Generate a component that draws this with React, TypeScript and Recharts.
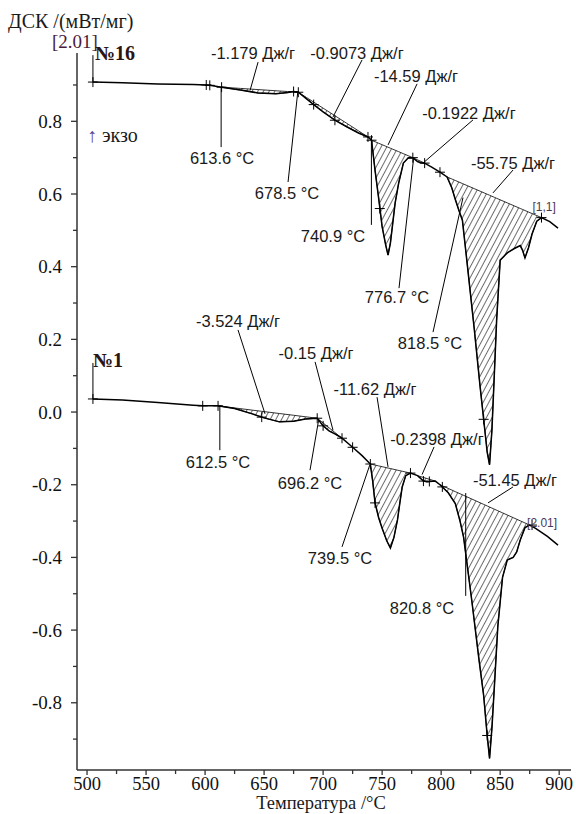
import React from 'react';
import {
  ComposedChart,
  Line,
  Area,
  Scatter,
  XAxis,
  YAxis,
  ReferenceLine,
  ReferenceDot,
} from 'recharts';

const serif = '"Liberation Serif", "Times New Roman", serif';
const sans = '"Liberation Sans", Arial, sans-serif';

// sample №16: temperature (°C) and DSC signal (mW/mg)
const tempA = [
  505, 530, 560, 590, 601, 604, 614, 630, 645, 660, 670, 675, 679, 686, 692, 700, 710, 720,
  730, 738, 741, 744, 747, 750, 753, 755, 757, 759, 761, 764, 768, 772, 776, 780, 783, 786,
  792, 799, 805, 809, 812, 815, 818, 822, 828, 833, 837, 839, 841, 843, 845, 847, 850, 856,
  862, 867, 869, 871, 874, 877, 881, 885, 892, 899,
];
const dscA = [
  0.908, 0.906, 0.903, 0.901, 0.9, 0.899, 0.894, 0.886, 0.878, 0.876, 0.879, 0.882, 0.88,
  0.862, 0.846, 0.826, 0.803, 0.785, 0.768, 0.757, 0.748, 0.665, 0.59, 0.51, 0.46, 0.432,
  0.465, 0.52, 0.575, 0.63, 0.685, 0.699, 0.7, 0.689, 0.686, 0.685, 0.674, 0.66, 0.647,
  0.617, 0.585, 0.555, 0.528, 0.41, 0.23, 0.07, -0.05, -0.11, -0.145, -0.05, 0.1, 0.253,
  0.418, 0.438, 0.45, 0.458, 0.445, 0.424, 0.452, 0.49, 0.525, 0.535, 0.524, 0.506,
];

// sample №1
const tempB = [
  505, 530, 560, 590, 598, 611, 625, 640, 650, 663, 675, 685, 695, 700, 705, 710, 716, 725,
  733, 740, 742, 744, 747, 750, 754, 757, 760, 763, 765, 767, 770, 774, 780, 785, 788, 795,
  799, 806, 812, 816, 819, 826, 832, 836, 839, 841, 843, 845, 848, 852, 856, 861, 864, 867,
  871, 875, 880, 890, 899,
];
const dscB = [
  0.036, 0.033, 0.026, 0.019, 0.017, 0.017, 0.01, -0.005, -0.016, -0.027, -0.025, -0.019,
  -0.017, -0.038, -0.052, -0.06, -0.072, -0.097, -0.12, -0.143, -0.19, -0.25, -0.29, -0.32,
  -0.355, -0.374, -0.345, -0.297, -0.25, -0.206, -0.175, -0.168, -0.175, -0.19, -0.192,
  -0.19, -0.2, -0.222, -0.252, -0.3, -0.344, -0.52, -0.68, -0.78, -0.89, -0.953, -0.87,
  -0.76, -0.59, -0.455, -0.407, -0.4, -0.385, -0.352, -0.318, -0.311, -0.32, -0.342, -0.366,
];

// integration limits (°C) of the hatched peaks
const limitsA = [[614, 679], [679, 738], [741, 776], [776, 786], [805, 885]];
const limitsB = [[611, 695], [695, 716], [740, 774], [780, 795], [799, 875]];

// evaluation points drawn as small crosses
const marksA = [
  [505, 0.908], [601, 0.9], [604, 0.899], [614, 0.894], [675, 0.882], [679, 0.88],
  [692, 0.846], [710, 0.803], [738, 0.757], [741, 0.748], [748, 0.56], [776, 0.7],
  [786, 0.685], [799, 0.66], [836, -0.02], [885, 0.535],
];
const marksB = [
  [505, 0.036], [598, 0.017], [611, 0.017], [648, -0.014], [695, -0.017], [700, -0.038],
  [716, -0.072], [725, -0.097], [740, -0.143], [744, -0.25], [774, -0.168], [785, -0.19],
  [790, -0.191], [801, -0.206], [839, -0.89], [877, -0.311],
];

// peak areas: label centre and leader line, in axis units
const areaLabels = [
  { text: '-1.179 Дж/г', x: 640.6, y: 0.988, from: [644.9, 0.963], to: [638.1, 0.885] },
  { text: '-0.9073 Дж/г', x: 728.7, y: 0.988, from: [733.0, 0.969], to: [708.4, 0.812] },
  { text: '-14.59 Дж/г', x: 778.7, y: 0.925, from: [779.6, 0.903], to: [755.0, 0.735] },
  { text: '-0.1922 Дж/г', x: 823.6, y: 0.823, from: [827.0, 0.804], to: [784.6, 0.685] },
  { text: '-55.75 Дж/г', x: 860.9, y: 0.685, from: [860.9, 0.666], to: [843.9, 0.603] },
  { text: '-3.524 Дж/г', x: 627.9, y: 0.25, from: [627.9, 0.226], to: [650.8, -0.005] },
  { text: '-0.15 Дж/г', x: 694.0, y: 0.162, from: [693.2, 0.138], to: [708.4, -0.05] },
  { text: '-11.62 Дж/г', x: 744.0, y: 0.063, from: [745.7, 0.041], to: [755.0, -0.151] },
  { text: '-0.2398 Дж/г', x: 796.5, y: -0.074, from: [794.0, -0.096], to: [783.8, -0.172] },
  { text: '-51.45 Дж/г', x: 862.6, y: -0.187, from: [860.9, -0.206], to: [839.7, -0.25] },
];

// onset temperatures with their marker lines
const onsets = [
  { t: 613.6, x: 614.4, y: 0.699, from: [613.6, 0.894], to: [613.6, 0.729] },
  { t: 678.5, x: 669.4, y: 0.603, from: [678.5, 0.88], to: [670.3, 0.633] },
  { t: 740.9, x: 708.4, y: 0.484, from: [740.9, 0.746], to: [740.9, 0.515] },
  { t: 776.7, x: 762.6, y: 0.316, from: [776.7, 0.699], to: [764.3, 0.341] },
  { t: 818.5, x: 790.6, y: 0.19, from: [818.5, 0.59], to: [793.1, 0.22] },
  { t: 612.5, x: 611.0, y: -0.138, from: [612.5, 0.017], to: [612.5, -0.105] },
  { t: 696.2, x: 688.9, y: -0.195, from: [696.2, -0.022], to: [688.9, -0.16] },
  { t: 739.5, x: 714.3, y: -0.402, from: [739.5, -0.146], to: [716.0, -0.371] },
  { t: 820.8, x: 783.8, y: -0.539, from: [820.8, -0.223], to: [820.8, -0.506] },
];

const xTicks = [500, 525, 550, 575, 600, 625, 650, 675, 700, 725, 750, 775, 800, 825, 850, 875, 900];
const yTicks = [-0.9, -0.8, -0.7, -0.6, -0.5, -0.4, -0.3, -0.2, -0.1, 0, 0.1, 0.2, 0.3, 0.4, 0.5, 0.6, 0.7, 0.8, 0.9];

const toPoints = (t: number[], v: number[]) => t.map((x, i) => ({ t: x, v: v[i] }));

// range between the straight baseline and the curve for one peak
const peakRange = (t: number[], v: number[], from: number, to: number) => {
  const i0 = t.indexOf(from);
  const i1 = t.indexOf(to);
  const b0 = v[i0];
  const b1 = v[i1];
  return t.slice(i0, i1 + 1).map((x, k) => ({
    t: x,
    range: [b0 + ((b1 - b0) * (x - from)) / (to - from), v[i0 + k]],
  }));
};

const curveA = toPoints(tempA, dscA);
const curveB = toPoints(tempB, dscB);
const peaks = [
  ...limitsA.map(([a, b]) => peakRange(tempA, dscA, a, b)),
  ...limitsB.map(([a, b]) => peakRange(tempB, dscB, a, b)),
];
const marks = [...marksA, ...marksB].map(([t, v]) => ({ t, v }));

const XTick = (props: any) => {
  const { x, y, payload } = props;
  const major = payload.value % 50 === 0;
  return (
    <g>
      <line x1={x} x2={x} y1={y} y2={y + (major ? 5 : 4)} stroke="#333" strokeWidth={1.3} />
      {major && (
        <text x={x} y={y + 20} textAnchor="middle" fontSize={18.5} fontFamily={serif} fill="#111">
          {payload.value}
        </text>
      )}
    </g>
  );
};

const YTick = (props: any) => {
  const { x, y, payload } = props;
  const major = Math.round(payload.value * 10) % 2 === 0;
  return (
    <g>
      <line x1={x - (major ? 6 : 4)} x2={x} y1={y} y2={y} stroke="#333" strokeWidth={1.3} />
      {major && (
        <text x={x - 15} y={y + 6.5} textAnchor="end" fontSize={19} fontFamily={serif} fill="#111">
          {payload.value.toFixed(1)}
        </text>
      )}
    </g>
  );
};

const Cross = (props: any) => {
  const { cx, cy } = props;
  return <path d={`M${cx - 5},${cy}h10M${cx},${cy - 5}v10`} stroke="#000" strokeWidth={1} />;
};

const textAt = (text: string, size: number) => (p: any) => (
  <text
    x={p.cx}
    y={p.cy}
    textAnchor="middle"
    dominantBaseline="central"
    fontSize={size}
    fontFamily={sans}
    fill="#1a1a1a"
  >
    {text}
  </text>
);

export default function App() {
  return (
    <div style={{ position: 'absolute', left: 0, top: 0, width: 576, height: 814, background: '#fff' }}>
      <ComposedChart width={576} height={814} margin={{ top: 53, right: 5, bottom: 14, left: 0 }}>
        <defs>
          <pattern id="hatch" width="5" height="8" patternUnits="userSpaceOnUse" patternTransform="rotate(28)">
            <line x1="0" y1="0" x2="0" y2="8" stroke="#000" strokeWidth="1.15" />
          </pattern>
        </defs>
        <XAxis
          type="number"
          dataKey="t"
          domain={[491.5, 910]}
          ticks={xTicks}
          interval={0}
          height={30}
          tickSize={0}
          tickMargin={0}
          tickLine={false}
          tick={<XTick />}
          axisLine={{ stroke: '#333', strokeWidth: 1.5 }}
          allowDataOverflow
        />
        <YAxis
          type="number"
          dataKey="v"
          domain={[-0.985, 0.988]}
          ticks={yTicks}
          interval={0}
          width={77}
          tickSize={0}
          tickMargin={0}
          tickLine={false}
          tick={<YTick />}
          axisLine={{ stroke: '#333', strokeWidth: 1.5 }}
          allowDataOverflow
        />
        {peaks.map((d, i) => (
          <Area
            key={`peak-${i}`}
            data={d}
            dataKey="range"
            type="linear"
            stroke="#000"
            strokeWidth={0.8}
            fill="url(#hatch)"
            fillOpacity={1}
            dot={false}
            activeDot={false}
            isAnimationActive={false}
          />
        ))}
        <Line data={curveA} dataKey="v" type="linear" stroke="#000" strokeWidth={1.5} dot={false} activeDot={false} isAnimationActive={false} />
        <Line data={curveB} dataKey="v" type="linear" stroke="#000" strokeWidth={1.5} dot={false} activeDot={false} isAnimationActive={false} />
        <Scatter data={marks} dataKey="v" shape={<Cross />} isAnimationActive={false} />

        <ReferenceLine segment={[{ x: 505, y: 0.908 }, { x: 505, y: 0.982 }]} stroke="#000" ifOverflow="visible" />
        <ReferenceLine segment={[{ x: 505, y: 0.036 }, { x: 505, y: 0.135 }]} stroke="#000" ifOverflow="visible" />

        {areaLabels.map((a, i) => (
          <ReferenceLine
            key={`al-${i}`}
            segment={[{ x: a.from[0], y: a.from[1] }, { x: a.to[0], y: a.to[1] }]}
            stroke="#000"
            strokeWidth={1}
            ifOverflow="visible"
          />
        ))}
        {areaLabels.map((a, i) => (
          <ReferenceDot key={`at-${i}`} x={a.x} y={a.y} r={0} ifOverflow="visible" shape={textAt(a.text, 16.5)} />
        ))}
        {onsets.map((o, i) => (
          <ReferenceLine
            key={`ol-${i}`}
            segment={[{ x: o.from[0], y: o.from[1] }, { x: o.to[0], y: o.to[1] }]}
            stroke="#000"
            strokeWidth={1}
            ifOverflow="visible"
          />
        ))}
        {onsets.map((o, i) => (
          <ReferenceDot key={`ot-${i}`} x={o.x} y={o.y} r={0} ifOverflow="visible" shape={textAt(`${o.t} °C`, 16.5)} />
        ))}
        <ReferenceDot x={887.2} y={0.564} r={0} ifOverflow="visible" shape={(p: any) => (
          <text x={p.cx} y={p.cy} textAnchor="middle" dominantBaseline="central" fontSize={12} fontFamily={sans} fill="#4a3a5a">[1,1]</text>
        )} />
        <ReferenceDot x={885.5} y={-0.305} r={0} ifOverflow="visible" shape={(p: any) => (
          <text x={p.cx} y={p.cy} textAnchor="middle" dominantBaseline="central" fontSize={12} fontFamily={sans} fill="#4a3a5a">[2.01]</text>
        )} />
      </ComposedChart>

      <svg
        width={576}
        height={814}
        style={{ position: 'absolute', left: 0, top: 0, pointerEvents: 'none' }}
      >
        <text x={8} y={28} fontSize={20} fontFamily={serif} fill="#1a1a1a">ДСК /(мВт/мг)</text>
        <text x={52} y={48} fontSize={19} fontFamily={serif} fill="#4a1a3a">[2.01]</text>
        <text x={95} y={60} fontSize={20} fontWeight="bold" fontFamily={serif} fill="#2a1414">№16</text>
        <text x={93} y={367} fontSize={20} fontWeight="bold" fontFamily={serif} fill="#2a1414">№1</text>
        <text x={87} y={142} fontSize={20} fontFamily={serif} fill="#1a1a1a">
          <tspan fill="#5a3c8c">↑</tspan> экзо
        </text>
        <text x={321} y={809} textAnchor="middle" fontSize={18.5} fontFamily={serif} fill="#1a1a1a">
          Температура /°C
        </text>
      </svg>
    </div>
  );
}
